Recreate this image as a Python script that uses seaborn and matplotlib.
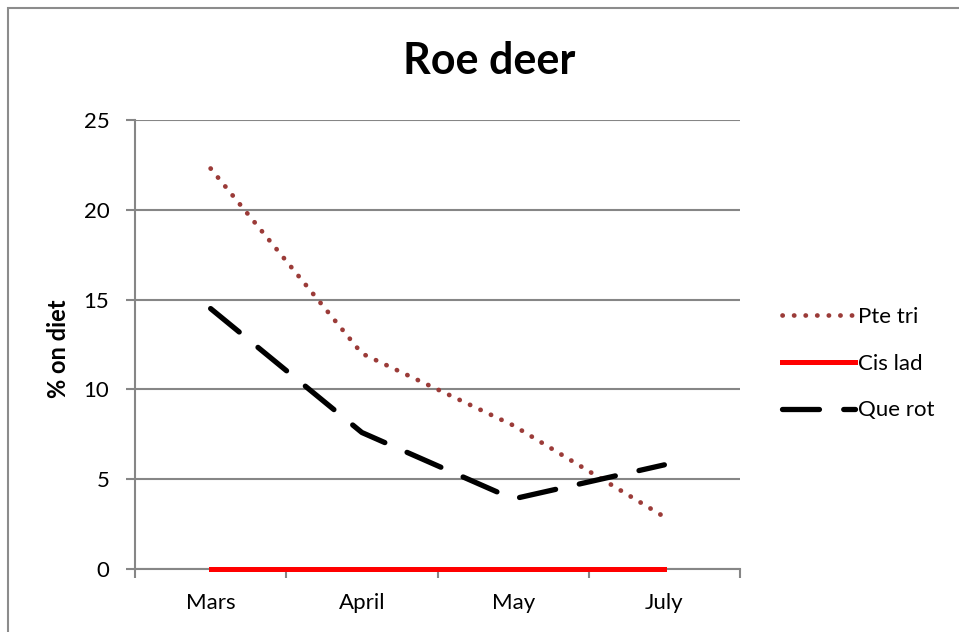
import matplotlib
matplotlib.use("Agg")
import matplotlib.pyplot as plt
from matplotlib.patches import Rectangle
import seaborn as sns
import pandas as pd

months = ["Mars", "April", "May", "July"]
pte_tri = [22.3, 12.0, 8.0, 2.9]
cis_lad = [0.0, 0.0, 0.0, 0.0]
que_rot = [14.5, 7.6, 3.9, 5.8]
y_ticks = [0, 5, 10, 15, 20, 25]

sns.set_theme(style="white")
plt.rcParams["font.family"] = ["Lato", "DejaVu Sans"]
plt.rcParams["text.color"] = "black"

GRID = "#868686"
fig = plt.figure(figsize=(9.59, 6.32), dpi=100)
fig.patch.set_facecolor("white")
ax = fig.add_axes([135 / 959, 1 - 569 / 632, 605 / 959, 449 / 632])

df = pd.DataFrame({"month": months, "Pte tri": pte_tri,
                   "Cis lad": cis_lad, "Que rot": que_rot})

sns.lineplot(data=df, x="month", y="Pte tri", ax=ax, color="#9B3B38",
             linewidth=3.4, label="Pte tri", sort=False)
sns.lineplot(data=df, x="month", y="Cis lad", ax=ax, color="#FF0000",
             linewidth=3.6, label="Cis lad", sort=False)
sns.lineplot(data=df, x="month", y="Que rot", ax=ax, color="black",
             linewidth=3.8, label="Que rot", sort=False)

lines = ax.get_lines()
lines[0].set_linestyle((0, (0.05, 2.4)))
lines[0].set_dash_capstyle("round")
lines[1].set_solid_capstyle("projecting")
lines[1].set_clip_on(False)
lines[1].set_zorder(5)
lines[2].set_linestyle((0, (7.0, 4.6)))
lines[2].set_dash_capstyle("round")
lines[2].set_solid_capstyle("round")

ax.set_xlim(-0.5, 3.5)
ax.set_ylim(0, 25)
ax.set_yticks(y_ticks)
ax.set_xticks(range(len(months)))
ax.set_xticklabels(months)
ax.set_xticks([-0.5, 0.5, 1.5, 2.5, 3.5], minor=True)
ax.set_xlabel("")
ax.set_ylabel("")

ax.grid(axis="y", color=GRID, linewidth=1.5)
ax.set_axisbelow(True)
for side in ["top", "right"]:
    ax.spines[side].set_visible(False)
for side in ["left", "bottom"]:
    ax.spines[side].set_color(GRID)
    ax.spines[side].set_linewidth(1.5)
    ax.spines[side].set_zorder(1)

ax.tick_params(axis="y", which="major", direction="out", length=6.5, width=1.5,
               color=GRID, pad=12, labelsize=16, labelcolor="black", left=True)
ax.tick_params(axis="x", which="major", length=0, pad=17, labelsize=16,
               labelcolor="black")
ax.tick_params(axis="x", which="minor", direction="out", length=6.5, width=1.5,
               color=GRID, bottom=True)

leg = ax.legend(loc="center left", bbox_to_anchor=(1.054, 0.457), frameon=False,
                fontsize=16, handlelength=3.3, handletextpad=0.15,
                labelspacing=1.2, borderaxespad=0)
for t in leg.get_texts():
    t.set_color("black")
for h in leg.get_lines():
    h.set_dash_capstyle("round")

fig.text(489 / 959, 1 - 61 / 632, "Roe deer", ha="center", va="center",
         fontsize=31, fontweight="bold")
fig.text(58 / 959, 1 - 349 / 632, "% on diet", ha="center", va="center",
         rotation=90, fontsize=17, fontweight="bold")

fig.add_artist(Rectangle((8 / 959, -0.1), 2, 1 - 7.5 / 632 + 0.1,
                         transform=fig.transFigure, fill=False,
                         edgecolor="#8c8c8c", linewidth=1.5))

fig.savefig("out.png", dpi=100, facecolor="white")
